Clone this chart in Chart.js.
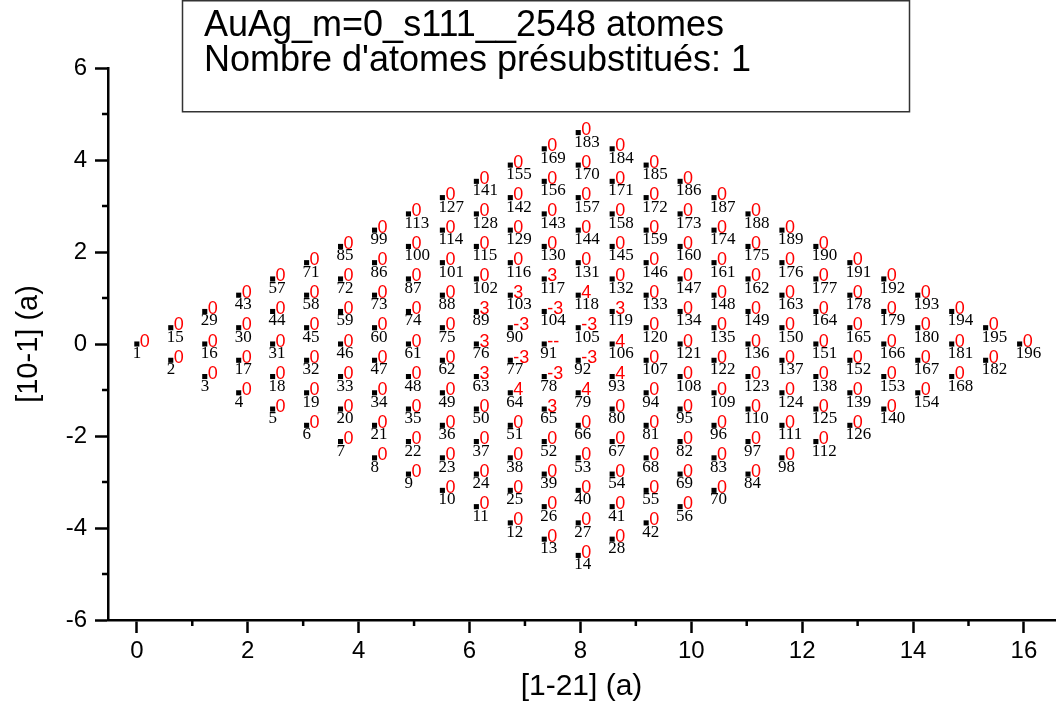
<!DOCTYPE html>
<html>
<head>
<meta charset="utf-8">
<script src="https://cdn.jsdelivr.net/npm/chart.js@4.4.1/dist/chart.umd.min.js"></script>
<style>
  html, body { margin: 0; padding: 0; background: #fff; }
  canvas { display: block; }
</style>
</head>
<body>
<canvas id="chart" width="1059" height="705"></canvas>
<script>
const titleLines = ["AuAg_m=0_s111__2548 atomes", "Nombre d'atomes présubstitués: 1"];
const xAxisTitle = "[1-21] (a)";
const yAxisTitle = "[10-1] (a)";
const xRange = [-0.52, 16.56];
const yRange = [-6, 6];

// atom positions in the (111) plane, one line per row of 14 atoms (ids 1..196)
const atomX = [
  0, 0.612, 1.225, 1.837, 2.449, 3.062, 3.674, 4.287, 4.899, 5.511, 6.124, 6.736, 7.348, 7.961,
  0.612, 1.225, 1.837, 2.449, 3.062, 3.674, 4.287, 4.899, 5.511, 6.124, 6.736, 7.348, 7.961, 8.573,
  1.225, 1.837, 2.449, 3.062, 3.674, 4.287, 4.899, 5.511, 6.124, 6.736, 7.348, 7.961, 8.573, 9.186,
  1.837, 2.449, 3.062, 3.674, 4.287, 4.899, 5.511, 6.124, 6.736, 7.348, 7.961, 8.573, 9.186, 9.798,
  2.449, 3.062, 3.674, 4.287, 4.899, 5.511, 6.124, 6.736, 7.348, 7.961, 8.573, 9.186, 9.798, 10.41,
  3.062, 3.674, 4.287, 4.899, 5.511, 6.124, 6.736, 7.348, 7.961, 8.573, 9.186, 9.798, 10.41, 11.023,
  3.674, 4.287, 4.899, 5.511, 6.124, 6.736, 7.348, 7.961, 8.573, 9.186, 9.798, 10.41, 11.023, 11.635,
  4.287, 4.899, 5.511, 6.124, 6.736, 7.348, 7.961, 8.573, 9.186, 9.798, 10.41, 11.023, 11.635, 12.247,
  4.899, 5.511, 6.124, 6.736, 7.348, 7.961, 8.573, 9.186, 9.798, 10.41, 11.023, 11.635, 12.247, 12.86,
  5.511, 6.124, 6.736, 7.348, 7.961, 8.573, 9.186, 9.798, 10.41, 11.023, 11.635, 12.247, 12.86, 13.472,
  6.124, 6.736, 7.348, 7.961, 8.573, 9.186, 9.798, 10.41, 11.023, 11.635, 12.247, 12.86, 13.472, 14.085,
  6.736, 7.348, 7.961, 8.573, 9.186, 9.798, 10.41, 11.023, 11.635, 12.247, 12.86, 13.472, 14.085, 14.697,
  7.348, 7.961, 8.573, 9.186, 9.798, 10.41, 11.023, 11.635, 12.247, 12.86, 13.472, 14.085, 14.697, 15.309,
  7.961, 8.573, 9.186, 9.798, 10.41, 11.023, 11.635, 12.247, 12.86, 13.472, 14.085, 14.697, 15.309, 15.922
];
const atomY = [
  0, -0.354, -0.707, -1.061, -1.414, -1.768, -2.121, -2.475, -2.828, -3.182, -3.536, -3.889, -4.243, -4.596,
  0.354, 0, -0.354, -0.707, -1.061, -1.414, -1.768, -2.121, -2.475, -2.828, -3.182, -3.536, -3.889, -4.243,
  0.707, 0.354, 0, -0.354, -0.707, -1.061, -1.414, -1.768, -2.121, -2.475, -2.828, -3.182, -3.536, -3.889,
  1.061, 0.707, 0.354, 0, -0.354, -0.707, -1.061, -1.414, -1.768, -2.121, -2.475, -2.828, -3.182, -3.536,
  1.414, 1.061, 0.707, 0.354, 0, -0.354, -0.707, -1.061, -1.414, -1.768, -2.121, -2.475, -2.828, -3.182,
  1.768, 1.414, 1.061, 0.707, 0.354, 0, -0.354, -0.707, -1.061, -1.414, -1.768, -2.121, -2.475, -2.828,
  2.121, 1.768, 1.414, 1.061, 0.707, 0.354, 0, -0.354, -0.707, -1.061, -1.414, -1.768, -2.121, -2.475,
  2.475, 2.121, 1.768, 1.414, 1.061, 0.707, 0.354, 0, -0.354, -0.707, -1.061, -1.414, -1.768, -2.121,
  2.828, 2.475, 2.121, 1.768, 1.414, 1.061, 0.707, 0.354, 0, -0.354, -0.707, -1.061, -1.414, -1.768,
  3.182, 2.828, 2.475, 2.121, 1.768, 1.414, 1.061, 0.707, 0.354, 0, -0.354, -0.707, -1.061, -1.414,
  3.536, 3.182, 2.828, 2.475, 2.121, 1.768, 1.414, 1.061, 0.707, 0.354, 0, -0.354, -0.707, -1.061,
  3.889, 3.536, 3.182, 2.828, 2.475, 2.121, 1.768, 1.414, 1.061, 0.707, 0.354, 0, -0.354, -0.707,
  4.243, 3.889, 3.536, 3.182, 2.828, 2.475, 2.121, 1.768, 1.414, 1.061, 0.707, 0.354, 0, -0.354,
  4.596, 4.243, 3.889, 3.536, 3.182, 2.828, 2.475, 2.121, 1.768, 1.414, 1.061, 0.707, 0.354, 0
];
// red value printed next to each atom
const atomCharge = [
  "0", "0", "0", "0", "0", "0", "0", "0", "0", "0", "0", "0", "0", "0",
  "0", "0", "0", "0", "0", "0", "0", "0", "0", "0", "0", "0", "0", "0",
  "0", "0", "0", "0", "0", "0", "0", "0", "0", "0", "0", "0", "0", "0",
  "0", "0", "0", "0", "0", "0", "0", "0", "0", "0", "0", "0", "0", "0",
  "0", "0", "0", "0", "0", "0", "3", "4", "3", "0", "0", "0", "0", "0",
  "0", "0", "0", "0", "0", "3", "-3", "-3", "4", "0", "0", "0", "0", "0",
  "0", "0", "0", "0", "3", "-3", "--", "-3", "4", "0", "0", "0", "0", "0",
  "0", "0", "0", "0", "3", "-3", "-3", "4", "0", "0", "0", "0", "0", "0",
  "0", "0", "0", "0", "3", "4", "3", "0", "0", "0", "0", "0", "0", "0",
  "0", "0", "0", "0", "0", "0", "0", "0", "0", "0", "0", "0", "0", "0",
  "0", "0", "0", "0", "0", "0", "0", "0", "0", "0", "0", "0", "0", "0",
  "0", "0", "0", "0", "0", "0", "0", "0", "0", "0", "0", "0", "0", "0",
  "0", "0", "0", "0", "0", "0", "0", "0", "0", "0", "0", "0", "0", "0",
  "0", "0", "0", "0", "0", "0", "0", "0", "0", "0", "0", "0", "0", "0"
];
// atoms are numbered in order
const atomIds = atomX.map((_, i) => String(i + 1));

const sans = "'Liberation Sans', Arial, sans-serif";
const serif = "'Liberation Serif', 'Times New Roman', serif";

const isEven = v => Number.isInteger(v) && v % 2 === 0;

// black id below-right and red value above-right of every marker
const atomLabels = {
  id: 'atomLabels',
  afterDatasetsDraw(chart) {
    const ctx = chart.ctx;
    const meta = chart.getDatasetMeta(0);
    ctx.save();
    ctx.textAlign = 'left';
    ctx.textBaseline = 'alphabetic';
    meta.data.forEach((pt, i) => {
      ctx.font = '17px ' + serif;
      ctx.fillStyle = '#000';
      ctx.fillText(atomIds[i], pt.x - 4, pt.y + 14);
      ctx.font = '18px ' + sans;
      ctx.fillStyle = '#ff0000';
      ctx.fillText(atomCharge[i], pt.x + 3, pt.y + 2.5);
    });
    ctx.restore();
  }
};

// short ticks at odd values
const minorTicks = {
  id: 'minorTicks',
  afterDraw(chart) {
    const { ctx, chartArea, scales } = chart;
    ctx.save();
    ctx.strokeStyle = '#000';
    ctx.lineWidth = 2.5;
    ctx.beginPath();
    for (let v = Math.ceil(xRange[0]); v <= xRange[1]; v++) {
      if (isEven(v)) continue;
      const px = scales.x.getPixelForValue(v);
      ctx.moveTo(px, chartArea.bottom);
      ctx.lineTo(px, chartArea.bottom + 6);
    }
    for (let v = yRange[0]; v <= yRange[1]; v++) {
      if (isEven(v)) continue;
      const py = scales.y.getPixelForValue(v);
      ctx.moveTo(chartArea.left, py);
      ctx.lineTo(chartArea.left - 6, py);
    }
    ctx.stroke();
    ctx.restore();
  }
};

// framed text block at the top
const titleBox = {
  id: 'titleBox',
  afterDraw(chart) {
    const ctx = chart.ctx;
    ctx.save();
    ctx.strokeStyle = '#333';
    ctx.lineWidth = 1.5;
    ctx.strokeRect(182.5, 0.75, 727, 111);
    ctx.fillStyle = '#000';
    ctx.font = '36px ' + sans;
    ctx.textAlign = 'left';
    ctx.textBaseline = 'alphabetic';
    ctx.fillText(titleLines[0], 204, 36);
    ctx.fillText(titleLines[1], 204, 71);
    ctx.restore();
  }
};

new Chart(document.getElementById('chart'), {
  type: 'scatter',
  plugins: [atomLabels, minorTicks, titleBox],
  data: {
    datasets: [{
      data: atomX.map((x, i) => ({ x, y: atomY[i] })),
      pointStyle: 'rect',
      pointRadius: 3.6,
      pointBorderWidth: 0,
      backgroundColor: '#000',
      borderColor: '#000',
      clip: false
    }]
  },
  options: {
    responsive: false,
    animation: false,
    events: [],
    layout: { padding: { top: 68, right: 0, left: 0, bottom: 0 } },
    plugins: {
      legend: { display: false },
      tooltip: { enabled: false },
      title: { display: false }
    },
    scales: {
      x: {
        type: 'linear',
        min: xRange[0],
        max: xRange[1],
        border: { display: true, color: '#000', width: 2.5 },
        grid: {
          drawOnChartArea: false,
          drawTicks: true,
          tickLength: 13,
          tickWidth: 2.5,
          tickColor: c => (c.tick && isEven(c.tick.value)) ? '#000' : 'rgba(0,0,0,0)'
        },
        ticks: {
          stepSize: 1,
          includeBounds: false,
          autoSkip: false,
          maxRotation: 0,
          padding: 4,
          color: '#000',
          font: { family: sans, size: 24 },
          callback: v => isEven(v) ? String(v) : ''
        },
        title: {
          display: true,
          text: xAxisTitle,
          color: '#000',
          font: { family: sans, size: 30 },
          padding: { top: 0, bottom: 0 }
        },
        afterFit: s => { s.height = 85; }
      },
      y: {
        type: 'linear',
        min: yRange[0],
        max: yRange[1],
        border: { display: true, color: '#000', width: 2.5 },
        grid: {
          drawOnChartArea: false,
          drawTicks: true,
          tickLength: 13,
          tickWidth: 2.5,
          tickColor: c => (c.tick && isEven(c.tick.value)) ? '#000' : 'rgba(0,0,0,0)'
        },
        ticks: {
          stepSize: 1,
          autoSkip: false,
          padding: 8,
          color: '#000',
          font: { family: sans, size: 24 },
          callback: v => isEven(v) ? String(v) : ''
        },
        title: {
          display: true,
          text: yAxisTitle,
          color: '#000',
          font: { family: sans, size: 29 },
          padding: { top: 12, bottom: 0 }
        },
        afterFit: s => { s.width = 108; }
      }
    }
  }
});
</script>
</body>
</html>
